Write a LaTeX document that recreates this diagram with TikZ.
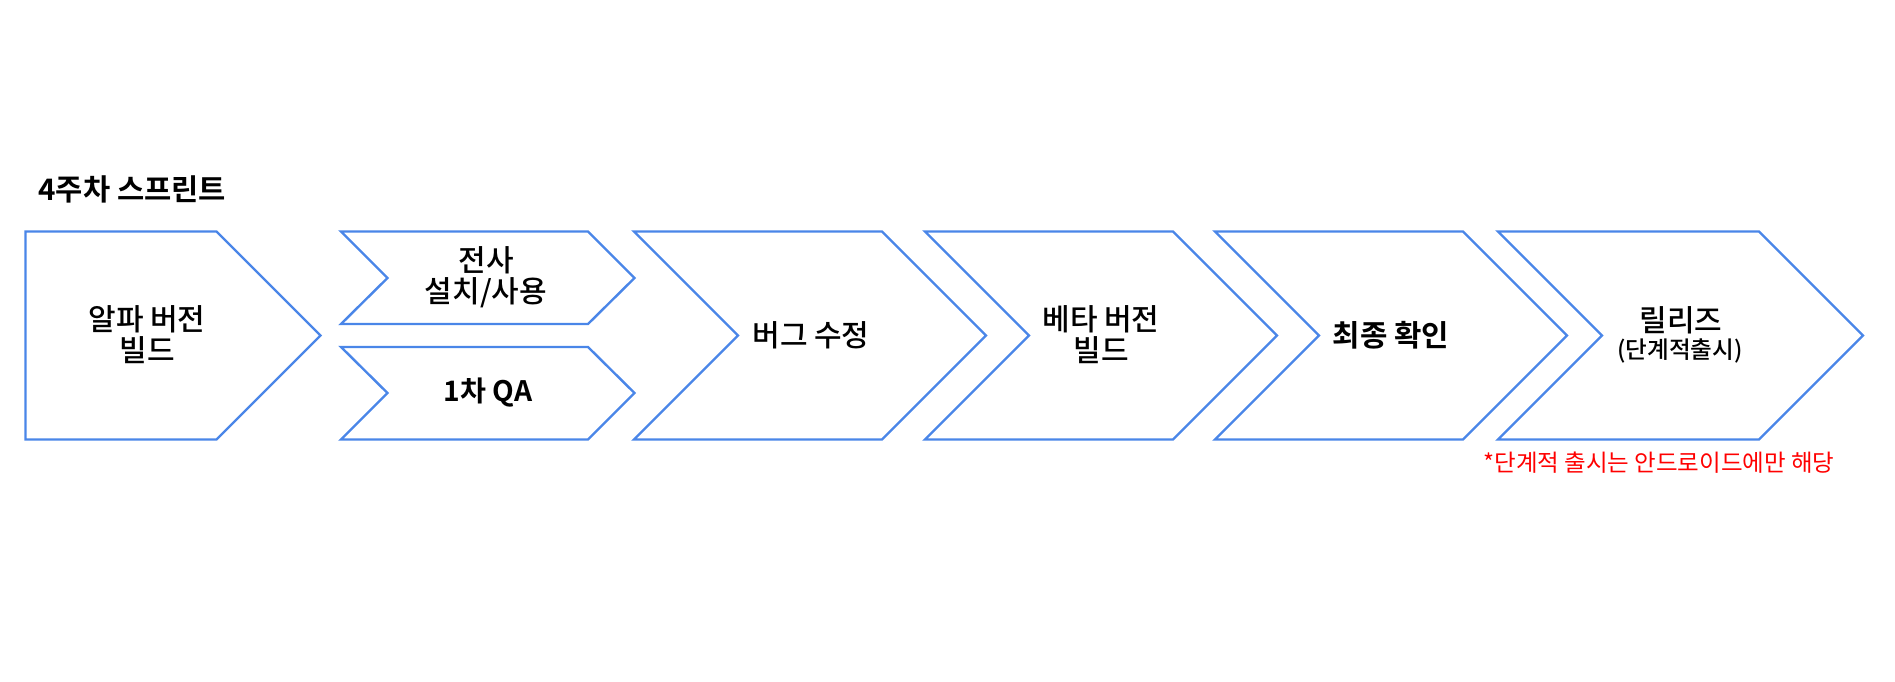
\documentclass[tikz,border=0pt]{standalone}
\usepackage{fontspec}
\newfontfamily\kofont{Noto Sans CJK KR}[UprightFont={Noto Sans CJK KR Medium}, BoldFont={Noto Sans CJK KR Bold}]
\newfontfamily\kothin{Noto Sans CJK KR}
\definecolor{chevblue}{HTML}{4A86E8}
\definecolor{notered}{HTML}{FF0000}

\begin{document}
\begin{tikzpicture}[x=0.5pt, y=-0.5pt,
    chev/.style={draw=chevblue, line width=1.2pt, line join=miter},
    every node/.style={font=\kofont\fontsize{15}{15.5}\selectfont, align=center, inner sep=0pt}]
  \useasboundingbox (0,0) rectangle (1895,681);

  % Pfeile
  \draw[chev] (25.5,231.5) -- (216.5,231.5) -- (320.5,335.5) -- (216.5,439.5) -- (25.5,439.5) -- cycle;
  \draw[chev] (341,231.5) -- (588,231.5) -- (634.5,278) -- (588,324) -- (341,324) -- (387.5,278) -- cycle;
  \draw[chev] (341,347) -- (588,347) -- (634.5,393) -- (588,439.5) -- (341,439.5) -- (387.5,393) -- cycle;
  \foreach \l/\c in {634/882, 925/1173, 1215/1463, 1498/1759}
    \draw[chev] (\l,231.5) -- (\c,231.5) -- (\c+104,335.5) -- (\c,439.5) -- (\l,439.5) -- (\l+104,335.5) -- cycle;

  % Beschriftungen
  \node[anchor=west, font=\kofont\bfseries\fontsize{14.8}{15.5}\selectfont] (title) at (38,189) {4주차 스프린트};
  \node (alpha) at (147,335) {알파 버전\\빌드};
  \node (install) at (486,277) {전사\\설치/사용};
  \node[font=\kofont\bfseries\fontsize{14.1}{15.5}\selectfont] (qa1) at (488,393) {1차 QA};
  \node[font=\kofont\bfseries\fontsize{14.9}{15.5}\selectfont] (final) at (1391,335) {최종 확인};
  \node (bugfix) at (811,335) {버그 수정};
  \node (beta) at (1101,335) {베타 버전\\빌드};
  \node (release) at (1681,320) {릴리즈};
  \node[font=\kofont\fontsize{11.8}{12}\selectfont] (phased) at (1680,351) {(단계적출시)};
  \node[text=notered, font=\kothin\fontsize{11.75}{12}\selectfont] (note) at (1659,463) {*단계적 출시는 안드로이드에만 해당};
\end{tikzpicture}
\end{document}
